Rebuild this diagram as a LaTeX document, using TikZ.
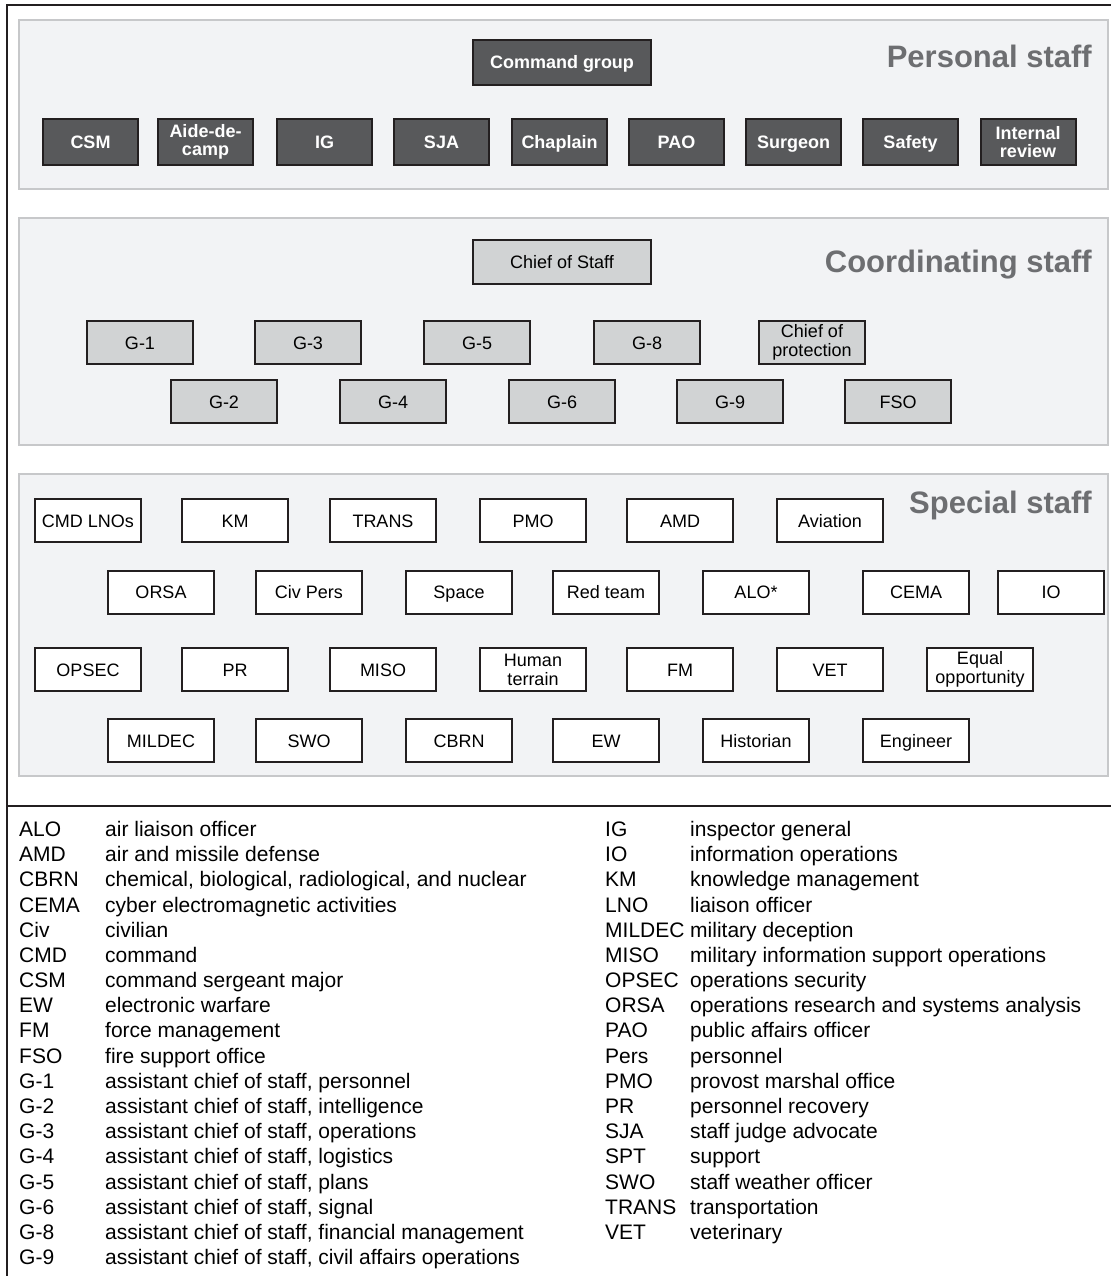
\documentclass[tikz,border=0pt]{standalone}
\usepackage{fontspec}
\setmainfont{Liberation Sans}
\definecolor{panelfill}{HTML}{F2F3F5}
\definecolor{panelline}{HTML}{C7C8CA}
\definecolor{darkbox}{HTML}{58595B}
\definecolor{boxline}{HTML}{231F20}
\definecolor{lightbox}{HTML}{D1D3D4}
\definecolor{titlegray}{HTML}{6D6E71}
\definecolor{frameline}{HTML}{231F20}
\tikzset{
  panel/.style={draw=panelline, fill=panelfill, line width=2.2pt},
  sline/.style={text height=13pt, text depth=0pt},
  twoline/.style={text height={}, text depth={}},
  persbox/.style={draw=boxline, fill=darkbox, line width=2pt, minimum width=95pt, minimum height=46pt, inner sep=0pt, align=center, text=white, font=\fontsize{18}{18.5}\selectfont\bfseries, sline},
  coordbox/.style={draw=boxline, fill=lightbox, line width=2pt, minimum width=106pt, minimum height=43pt, inner sep=0pt, align=center, text=black, font=\fontsize{18}{19}\selectfont, sline},
  specbox/.style={draw=boxline, fill=white, line width=2pt, minimum width=106pt, minimum height=43pt, inner sep=0pt, align=center, text=black, font=\fontsize{18}{19}\selectfont, sline},
  paneltitle/.style={anchor=base east, inner sep=0pt, text=titlegray, font=\fontsize{31}{32}\selectfont\bfseries},
  legtext/.style={anchor=base west, inner sep=0pt, font=\fontsize{21}{24}\selectfont},
}
\begin{document}
\begin{tikzpicture}[x=1pt, y=-1pt]
\useasboundingbox (0,0) rectangle (1111,1276);
% outer frame lines
\draw[frameline, line width=2.5pt] (7,1276) -- (7,5) -- (1111,5);
\draw[frameline, line width=2.5pt] (7,806) -- (1111,806);
% panels
\draw[panel] (19,20) rectangle (1108,189);
\draw[panel] (19,218) rectangle (1108,445);
\draw[panel] (19,474) rectangle (1108,776);
% titles
\node[paneltitle] (tpers) at (1092,67.5) {Personal staff};
\node[paneltitle] (tcoord) at (1092,272.5) {Coordinating staff};
\node[paneltitle] (tspec) at (1092,513) {Special staff};
% personal staff
\node[persbox, minimum width=178pt, minimum height=45pt] (cmdgrp) at (562,62.5) {Command group};
\node[persbox] (csm) at (90.5,142) {CSM};
\node[persbox, twoline] (aide) at (205.5,142) {Aide-de-\\camp};
\node[persbox] (ig) at (324.5,142) {IG};
\node[persbox] (sja) at (441.5,142) {SJA};
\node[persbox] (chap) at (559.5,142) {Chaplain};
\node[persbox] (pao) at (676.5,142) {PAO};
\node[persbox] (surg) at (793.5,142) {Surgeon};
\node[persbox] (safety) at (910.5,142) {Safety};
\node[persbox, twoline] (intrev) at (1028,142) {Internal\\review};
% coordinating staff
\node[coordbox, minimum width=178pt, minimum height=44pt] (cos) at (562,262) {Chief of Staff};
\node[coordbox] (g1) at (140,342.5) {G-1};
\node[coordbox] (g3) at (308,342.5) {G-3};
\node[coordbox] (g5) at (477,342.5) {G-5};
\node[coordbox] (g8) at (647,342.5) {G-8};
\node[coordbox, twoline] (cop) at (812,342.5) {Chief of\\protection};
\node[coordbox] (g2) at (224,401.5) {G-2};
\node[coordbox] (g4) at (393,401.5) {G-4};
\node[coordbox] (g6) at (562,401.5) {G-6};
\node[coordbox] (g9) at (730,401.5) {G-9};
\node[coordbox] (fso) at (898,401.5) {FSO};
% special staff row 1
\node[specbox] (cmdlno) at (88,520.5) {CMD LNOs};
\node[specbox] (km) at (235,520.5) {KM};
\node[specbox] (trans) at (383,520.5) {TRANS};
\node[specbox] (pmo) at (533,520.5) {PMO};
\node[specbox] (amd) at (680,520.5) {AMD};
\node[specbox] (aviation) at (830,520.5) {Aviation};
% row 2
\node[specbox] (orsa) at (161,592) {ORSA};
\node[specbox] (civpers) at (309,592) {Civ Pers};
\node[specbox] (space) at (459,592) {Space};
\node[specbox] (redteam) at (606,592) {Red team};
\node[specbox] (alo) at (756,592) {ALO*};
\node[specbox] (cema) at (916,592) {CEMA};
\node[specbox] (io) at (1051,592) {IO};
% row 3
\node[specbox] (opsec) at (88,669.5) {OPSEC};
\node[specbox] (pr) at (235,669.5) {PR};
\node[specbox] (miso) at (383,669.5) {MISO};
\node[specbox, twoline] (human) at (533,669.5) {Human\\terrain};
\node[specbox] (fm) at (680,669.5) {FM};
\node[specbox] (vet) at (830,669.5) {VET};
\node[specbox, twoline] (equal) at (980,669.5) {Equal\\opportunity};
% row 4
\node[specbox] (mildec) at (161,740.5) {MILDEC};
\node[specbox] (swo) at (309,740.5) {SWO};
\node[specbox] (cbrn) at (459,740.5) {CBRN};
\node[specbox] (ew) at (606,740.5) {EW};
\node[specbox] (hist) at (756,740.5) {Historian};
\node[specbox] (eng) at (916,740.5) {Engineer};
% legend left column
\foreach \ab/\desc [count=\i from 0] in {
  ALO/air liaison officer,
  AMD/air and missile defense,
  CBRN/{chemical, biological, radiological, and nuclear},
  CEMA/cyber electromagnetic activities,
  Civ/civilian,
  CMD/command,
  CSM/command sergeant major,
  EW/electronic warfare,
  FM/force management,
  FSO/fire support office,
  G-1/{assistant chief of staff, personnel},
  G-2/{assistant chief of staff, intelligence},
  G-3/{assistant chief of staff, operations},
  G-4/{assistant chief of staff, logistics},
  G-5/{assistant chief of staff, plans},
  G-6/{assistant chief of staff, signal},
  G-8/{assistant chief of staff, financial management},
  G-9/{assistant chief of staff, civil affairs operations}} {
  \node[legtext] (la\i) at (19,836.5+25.18*\i) {\ab};
  \node[legtext] (ld\i) at (105,836.5+25.18*\i) {\desc};
}
% legend right column
\foreach \ab/\desc [count=\i from 0] in {
  IG/inspector general,
  IO/information operations,
  KM/knowledge management,
  LNO/liaison officer,
  MILDEC/military deception,
  MISO/military information support operations,
  OPSEC/operations security,
  ORSA/operations research and systems analysis,
  PAO/public affairs officer,
  Pers/personnel,
  PMO/provost marshal office,
  PR/personnel recovery,
  SJA/staff judge advocate,
  SPT/support,
  SWO/staff weather officer,
  TRANS/transportation,
  VET/veterinary} {
  \node[legtext] (ra\i) at (605,836.5+25.18*\i) {\ab};
  \node[legtext] (rd\i) at (690,836.5+25.18*\i) {\desc};
}
\end{tikzpicture}
\end{document}
